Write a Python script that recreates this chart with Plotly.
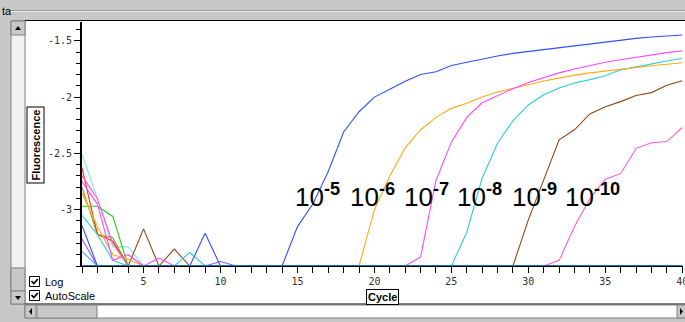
import plotly.graph_objects as go

# ---------------- data ----------------
cycles = list(range(1, 41))

dil_5 = [-3.14, -3.5, -3.5, -3.5, -3.5, -3.5, -3.5, -3.5, -3.21, -3.5,
         -3.5, -3.5, -3.5, -3.5, -3.15, -2.95, -2.66, -2.31, -2.13, -2.0,
         -1.93, -1.86, -1.80, -1.775, -1.72, -1.69, -1.66, -1.635, -1.612, -1.595,
         -1.578, -1.56, -1.543, -1.527, -1.51, -1.493, -1.478, -1.466, -1.457, -1.448]
dil_6 = [-2.85, -3.15, -3.4, -3.44, -3.5, -3.5, -3.5, -3.5, -3.5, -3.5,
         -3.5, -3.5, -3.5, -3.5, -3.5, -3.5, -3.5, -3.5, -3.5, -3.0,
         -2.70, -2.45, -2.29, -2.18, -2.10, -2.055, -2.0, -1.955, -1.925, -1.89,
         -1.857, -1.83, -1.805, -1.785, -1.768, -1.752, -1.737, -1.722, -1.708, -1.695]
dil_7 = [-2.75, -2.95, -3.45, -3.40, -3.5, -3.43, -3.5, -3.5, -3.5, -3.5,
         -3.5, -3.5, -3.5, -3.5, -3.5, -3.5, -3.5, -3.5, -3.5, -3.5,
         -3.5, -3.5, -3.42, -2.74, -2.40, -2.18, -2.05, -1.985, -1.925, -1.87,
         -1.825, -1.785, -1.75, -1.72, -1.69, -1.668, -1.645, -1.625, -1.605, -1.588]
dil_8 = [-3.05, -3.22, -3.45, -3.5, -3.5, -3.5, -3.5, -3.38, -3.5, -3.5,
         -3.5, -3.5, -3.5, -3.5, -3.5, -3.5, -3.5, -3.5, -3.5, -3.5,
         -3.5, -3.5, -3.5, -3.5, -3.5, -3.2, -2.72, -2.41, -2.21, -2.07,
         -1.98, -1.92, -1.875, -1.845, -1.81, -1.758, -1.73, -1.705, -1.68, -1.655]
dil_9 = [-3.5, -3.5, -3.5, -3.5, -3.17, -3.5, -3.35, -3.5, -3.5, -3.5,
         -3.5, -3.5, -3.5, -3.5, -3.5, -3.5, -3.5, -3.5, -3.5, -3.5,
         -3.5, -3.5, -3.5, -3.5, -3.5, -3.5, -3.5, -3.5, -3.5, -3.09,
         -2.74, -2.38, -2.29, -2.15, -2.085, -2.04, -1.985, -1.96, -1.895, -1.855]
dil_10 = [-2.7, -2.9, -3.3, -3.5, -3.5, -3.5, -3.5, -3.5, -3.5, -3.5,
          -3.5, -3.5, -3.5, -3.5, -3.5, -3.5, -3.5, -3.5, -3.5, -3.5,
          -3.5, -3.5, -3.5, -3.5, -3.5, -3.5, -3.5, -3.5, -3.5, -3.5,
          -3.5, -3.45, -3.15, -2.9, -2.73, -2.68, -2.455, -2.405, -2.395, -2.27]

# early-cycle noise of the other wells (then flat at baseline)
rep_lightcyan = [-2.51, -2.9, -3.33, -3.33, -3.5] + [-3.5] * 35
rep_red = [-2.63, -3.22, -3.28, -3.5] + [-3.5] * 36
rep_green = [-2.97, -2.97, -3.06, -3.5] + [-3.5] * 36
rep_olive = [-2.8, -3.22, -3.25, -3.5] + [-3.5] * 36
rep_purple = [-3.26, -3.5, -3.5, -3.5, -3.5, -3.5, -3.5, -3.5, -3.5, -3.46, -3.5] + [-3.5] * 29
rep_lightblue = [-3.37, -3.5] + [-3.5] * 38
ntc = [-3.5] * 40

dilution_labels = ["10<sup><b>-5</b></sup>", "10<sup><b>-6</b></sup>", "10<sup><b>-7</b></sup>",
                   "10<sup><b>-8</b></sup>", "10<sup><b>-9</b></sup>", "10<sup><b>-10</b></sup>"]
x_tick_vals = [5, 10, 15, 20, 25, 30, 35, 40]
x_tick_text = ["5", "10", "15", "20", "25", "30", "35", "40"]
y_tick_vals = [-3, -2.5, -2, -1.5]
y_tick_text = ["-3", "-2.5", "-2", "-1.5"]

# ---------------- layout helpers ----------------
L, R, T, B = 82, 683, 22, 266
W, H = R - L, B - T


def px(x):
    return (x - L) / W


def py(y):
    return (B - y) / H


fig = go.Figure()

noise = [
    (rep_lightcyan, "#86e6f2"),
    (rep_olive, "#7aa820"),
    (rep_red, "#ff2a10"),
    (rep_green, "#22d022"),
    (rep_purple, "#a050ff"),
    (rep_lightblue, "#40a8ff"),
]
for ys, col in noise:
    fig.add_trace(go.Scatter(x=cycles, y=ys, mode="lines",
                             line=dict(color=col, width=1.1), showlegend=False,
                             hoverinfo="skip"))

curves = [
    (dil_10, "#ff5cc8"),
    (dil_9, "#8a4a1a"),
    (dil_8, "#2ccfd0"),
    (dil_6, "#ffaa10"),
    (dil_7, "#ff48ff"),
    (dil_5, "#3050ff"),
]
for ys, col in curves:
    fig.add_trace(go.Scatter(x=cycles, y=ys, mode="lines",
                             line=dict(color=col, width=1.1), showlegend=False,
                             hoverinfo="skip"))

fig.add_trace(go.Scatter(x=cycles, y=ntc, mode="lines",
                         line=dict(color="#1f6fa8", width=2.2), showlegend=False,
                         hoverinfo="skip"))

shapes = []
GRAY = "#c8c8c8"
shapes.append(dict(type="rect", xref="paper", yref="paper", layer="below",
                   x0=px(25), x1=px(686), y0=py(304), y1=py(20),
                   fillcolor="white", line=dict(width=0)))
shapes.append(dict(type="line", xref="paper", yref="paper",
                   x0=px(25), x1=px(686), y0=py(20.5), y1=py(20.5),
                   line=dict(color="black", width=1)))
shapes.append(dict(type="line", xref="paper", yref="paper",
                   x0=px(9), x1=px(686), y0=py(10.5), y1=py(10.5),
                   line=dict(color="#9a9a9a", width=1)))
shapes.append(dict(type="line", xref="paper", yref="paper",
                   x0=px(9), x1=px(686), y0=py(11.5), y1=py(11.5),
                   line=dict(color="#eeeeee", width=1)))
# left vertical scrollbar
shapes.append(dict(type="rect", xref="paper", yref="paper",
                   x0=px(11), x1=px(25), y0=py(304), y1=py(21),
                   fillcolor="#f2f2f2", line=dict(color="#808080", width=1)))
shapes.append(dict(type="rect", xref="paper", yref="paper",
                   x0=px(11), x1=px(25), y0=py(35), y1=py(21),
                   fillcolor=GRAY, line=dict(color="#808080", width=1)))
shapes.append(dict(type="rect", xref="paper", yref="paper",
                   x0=px(11), x1=px(25), y0=py(291), y1=py(268),
                   fillcolor=GRAY, line=dict(color="#808080", width=1)))
shapes.append(dict(type="rect", xref="paper", yref="paper",
                   x0=px(11), x1=px(25), y0=py(304), y1=py(291),
                   fillcolor=GRAY, line=dict(color="#808080", width=1)))
shapes.append(dict(type="path", xref="paper", yref="paper",
                   path=f"M {px(15)} {py(30)} L {px(21)} {py(30)} L {px(18)} {py(26)} Z",
                   fillcolor="black", line=dict(width=0)))
shapes.append(dict(type="path", xref="paper", yref="paper",
                   path=f"M {px(15)} {py(296)} L {px(21)} {py(296)} L {px(18)} {py(300)} Z",
                   fillcolor="black", line=dict(width=0)))
shapes.append(dict(type="line", xref="paper", yref="paper",
                   x0=px(25), x1=px(686), y0=py(304), y1=py(304),
                   line=dict(color="black", width=1)))
# horizontal scrollbar
shapes.append(dict(type="rect", xref="paper", yref="paper",
                   x0=px(25), x1=px(686), y0=py(318), y1=py(305),
                   fillcolor="white", line=dict(color="#808080", width=1)))
shapes.append(dict(type="rect", xref="paper", yref="paper",
                   x0=px(25), x1=px(36), y0=py(318), y1=py(305),
                   fillcolor=GRAY, line=dict(color="#808080", width=1)))
shapes.append(dict(type="rect", xref="paper", yref="paper",
                   x0=px(37), x1=px(97), y0=py(318), y1=py(305),
                   fillcolor=GRAY, line=dict(color="#808080", width=1)))
shapes.append(dict(type="rect", xref="paper", yref="paper",
                   x0=px(677), x1=px(686), y0=py(318), y1=py(305),
                   fillcolor=GRAY, line=dict(color="#808080", width=1)))
shapes.append(dict(type="path", xref="paper", yref="paper",
                   path=f"M {px(32)} {py(308)} L {px(32)} {py(315)} L {px(29)} {py(311.5)} Z",
                   fillcolor="black", line=dict(width=0)))
shapes.append(dict(type="path", xref="paper", yref="paper",
                   path=f"M {px(680)} {py(308)} L {px(680)} {py(315)} L {px(683)} {py(311.5)} Z",
                   fillcolor="black", line=dict(width=0)))
# checkboxes
for y0 in (276.5, 290.5):
    shapes.append(dict(type="rect", xref="paper", yref="paper",
                       x0=px(29.5), x1=px(39.5), y0=py(y0 + 10), y1=py(y0),
                       fillcolor="white", line=dict(color="black", width=1)))
    shapes.append(dict(type="path", xref="paper", yref="paper",
                       path=(f"M {px(31.5)} {py(y0 + 4.5)} L {px(33.8)} {py(y0 + 7)} "
                             f"L {px(37.8)} {py(y0 + 2.5)}"),
                       line=dict(color="black", width=1.8)))

annotations = []
label_left_px = [293, 348, 402, 455, 510, 563]
for lab, xl in zip(dilution_labels, label_left_px):
    annotations.append(dict(text=lab, xref="paper", yref="paper",
                            x=px(xl), y=py(195), xanchor="left", yanchor="middle",
                            showarrow=False,
                            font=dict(family="Liberation Sans, Arial", size=26, color="black")))
annotations.append(dict(text="<b>Fluorescence</b>", xref="paper", yref="paper",
                        x=px(35.5), y=py(145), xanchor="center", yanchor="middle",
                        textangle=-90, showarrow=False, bgcolor="white",
                        bordercolor="black", borderwidth=1, borderpad=2,
                        font=dict(family="Liberation Sans, Arial", size=11, color="black")))
annotations.append(dict(text="<b>Cycle</b>", xref="paper", yref="paper",
                        x=px(382), y=py(297), xanchor="center", yanchor="middle",
                        showarrow=False, bgcolor="white",
                        bordercolor="black", borderwidth=1, borderpad=1,
                        font=dict(family="Liberation Sans, Arial", size=11, color="black")))
annotations.append(dict(text="Log", xref="paper", yref="paper",
                        x=px(43), y=py(281.5), xanchor="left", yanchor="middle",
                        showarrow=False,
                        font=dict(family="Liberation Sans, Arial", size=11, color="black")))
annotations.append(dict(text="AutoScale", xref="paper", yref="paper",
                        x=px(43), y=py(295.5), xanchor="left", yanchor="middle",
                        showarrow=False,
                        font=dict(family="Liberation Sans, Arial", size=11, color="black")))
annotations.append(dict(text="ta", xref="paper", yref="paper",
                        x=px(0), y=py(11), xanchor="left", yanchor="middle",
                        showarrow=False,
                        font=dict(family="Liberation Sans, Arial", size=11, color="black")))

fig.update_layout(
    width=685, height=322,
    margin=dict(l=L, r=685 - R, t=T, b=322 - B, autoexpand=False),
    paper_bgcolor=GRAY, plot_bgcolor="white",
    showlegend=False,
    shapes=shapes, annotations=annotations,
    xaxis=dict(range=[1, 40.05], tickmode="array", tickvals=x_tick_vals, ticktext=x_tick_text,
               automargin=False, ticklabeloverflow="allow",
               ticks="outside", ticklen=6, tickcolor="black", tickwidth=1,
               minor=dict(dtick=1, tick0=1, ticks="outside", ticklen=6, tickcolor="black"),
               showgrid=False, zeroline=False, showline=True, linecolor="black", linewidth=1,
               tickfont=dict(family="DejaVu Sans Mono", size=10, color="#333333")),
    yaxis=dict(range=[-3.5, -1.333], tickmode="array", tickvals=y_tick_vals, ticktext=y_tick_text,
               automargin=False,
               ticks="outside", ticklen=6, tickcolor="black", tickwidth=1,
               minor=dict(dtick=0.1, tick0=-3.5, ticks="outside", ticklen=4, tickcolor="black"),
               showgrid=False, zeroline=False, showline=True, linecolor="black", linewidth=2,
               tickfont=dict(family="DejaVu Sans Mono", size=10, color="#333333")),
)

fig.write_html("out.html", config={"displayModeBar": False},
               post_script="document.body.style.margin='0';document.body.style.overflow='hidden';")
